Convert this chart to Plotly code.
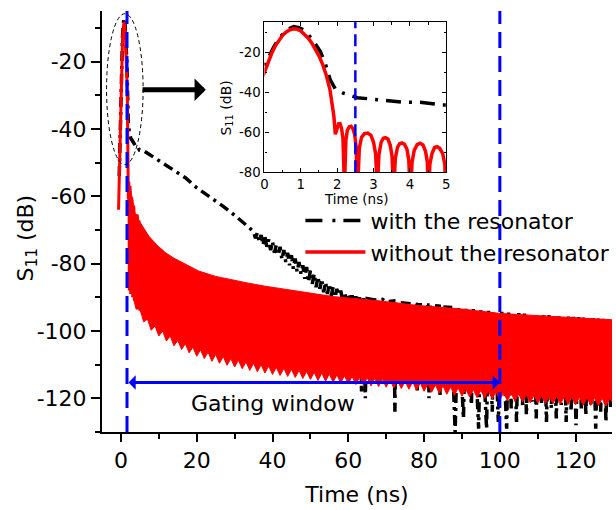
import plotly.graph_objects as go

# ---------------- data ----------------
# red curve "without the resonator" around the main pulse (ns, dB)
red_t = [-0.63, -0.45, -0.3, -0.15, 0.0, 0.1, 0.2, 0.3, 0.4, 0.5, 0.6, 0.7, 0.8, 0.9, 1.0,
         1.1, 1.2, 1.3, 1.4, 1.5, 1.6, 1.7, 1.8, 1.86, 1.91, 1.95, 1.99, 2.04, 2.08, 2.12,
         2.16, 2.2, 2.24, 2.28, 2.33, 2.38, 2.43, 2.48, 2.52, 2.56, 2.61, 2.67, 2.75, 2.84,
         2.93, 3.0, 3.06, 3.1, 3.15, 3.21, 3.27, 3.33, 3.4, 3.46, 3.51, 3.55, 3.6, 3.66,
         3.72, 3.78, 3.85, 3.92, 3.97, 4.01, 4.06, 4.12, 4.2, 4.28, 4.36, 4.43, 4.48, 4.51,
         4.55, 4.61, 4.68, 4.75, 4.82, 4.9, 4.96, 5.0]
red_db = [-64, -54, -45, -36.5, -30, -25, -20.5, -16.8, -13.8, -11.5, -9.8, -8.8, -8.3, -8.5, -9.3,
          -10.8, -12.8, -15.3, -18.3, -21.8, -26, -31.5, -38.5, -45, -52, -61, -58, -55.8, -55.7, -58,
          -63, -88, -64, -59, -57.3, -57, -58, -61, -67, -89, -68, -62.5, -60.7, -60.4,
          -61.5, -65, -71, -90, -71, -65, -63, -62.7, -63.5, -66.5, -72, -91, -73, -67.5,
          -65.7, -65.3, -66, -68.5, -74, -92, -75, -69, -66.2, -65.5, -66.3, -69.5, -75, -93,
          -76, -70.5, -67.6, -67.2, -68, -70.5, -76, -94]

# upper envelope of the dense red ringing (ns, dB)
red_top_t = [1.95, 2.07, 2.38, 2.87, 3.32, 3.78, 4.29, 4.74, 6, 7.4, 9.5, 11.8, 14, 16.1, 18,
             20.5, 25, 29.3, 33.6, 38, 42, 46.7, 51, 56, 60, 68.6, 78, 83.4, 90, 100, 110,
             120, 129.6]
red_top_db = [-60, -55.7, -57, -60.4, -62.7, -65.3, -65.5, -67.2, -69.5, -71.9, -74.5, -76.8,
              -78.4, -79.7, -80.8, -82.2, -83.8, -84.9, -85.8, -86.7, -87.4, -88.2, -89, -89.8,
              -90.2, -91.1, -92.4, -92.8, -93.5, -94.8, -95.5, -96.1, -96.7]

# lower edge of the red ringing: edge at odd ns, tooth tips at even ns
red_edge_t = list(range(3, 130, 2))
red_edge_db = [-89, -93.5, -96.5, -98.5, -100, -101.5, -102.8, -103.8, -104.8, -105.6,
               -106.3, -107, -107.6, -108.2, -108.7, -109.2, -109.6, -110, -110.4, -110.8,
               -111.1, -111.4, -111.7, -112, -112.3, -112.5, -112.8, -113, -113.3, -113.5,
               -113.7, -113.9, -114.1, -114.3, -114.5, -114.7, -114.9, -115.1, -115.4, -115.7,
               -116, -116.3, -116.6, -116.9, -117.2, -117.4, -117.6, -117.8, -118, -118.3,
               -118.5, -118.7, -118.9, -119.1, -119.2, -119.3, -119.4, -119.5, -119.6, -119.7,
               -119.8, -119.9, -120, -120.1]
red_tooth_t = list(range(4, 129, 2))
red_tooth_db = [-93.5, -97.3, -99.8, -101.5, -103, -104.4, -105.5, -106.5, -107.5, -108.2,
                -109, -109.6, -110.2, -110.7, -111.2, -111.7, -112.1, -112.5, -112.9, -113.2,
                -113.5, -113.8, -114.1, -114.4, -114.7, -114.9, -115.2, -115.4, -115.7, -115.9,
                -116.1, -116.3, -116.5, -116.7, -116.9, -117.1, -117.3, -117.6, -117.9, -118.2,
                -118.5, -118.8, -119.1, -119.4, -119.6, -119.8, -120, -120.2, -120.5, -120.7,
                -120.9, -121.1, -121.3, -121.4, -121.5, -121.6, -121.7, -121.8, -121.9, -122,
                -122.1, -122.2, -122.3]
red_low_start_t = [1.95, 2.1]
red_low_start_db = [-62, -85]
red_low_end_t = [129.6]
red_low_end_db = [-121]

# black curve "with the resonator" (ns, dB)
black_t = [-0.45, -0.3, -0.15, 0, 0.12, 0.25, 0.4, 0.55, 0.7, 0.81, 0.95, 1.08, 1.2, 1.35, 1.54,
           1.68, 1.81, 1.95, 2.18, 2.55, 2.9, 3.37, 3.83, 4.28, 4.56, 4.88, 6, 9, 12, 15, 17,
           20, 22, 24, 27, 29.3, 31, 33,
           35, 35.5, 36, 36.5, 37, 37.5, 38, 38.5, 39, 39.5, 40, 40.5, 41, 41.5, 42, 42.5,
           43, 43.5, 44, 44.5, 45, 45.5, 46, 46.5, 47, 47.5, 48, 48.5, 49, 49.5, 50, 50.5,
           51, 51.5, 52, 52.5, 53, 53.5, 54, 54.5, 55, 55.5, 56, 56.5, 57, 57.5, 58, 58.5,
           59, 59.5, 60, 60.5, 61, 61.5, 62, 62.5, 63,
           63.5, 64, 64.5, 65,
           67, 69, 70, 72, 72.3, 72.6, 75, 78, 78.2, 78.4, 81, 81.3, 81.6, 84, 84.2, 84.4, 87,
           88.2, 89, 90.4, 91, 92.5, 93, 94.4, 95, 96.5, 97, 98, 98.5, 99.6, 100.5, 101.8,
           102.3, 103, 103.6, 104.4, 105, 106, 106.5, 107, 107.8, 108.5, 109, 109.6, 110.2,
           111, 111.6, 112.3, 113, 113.6, 114.2, 114.9, 115.5, 116.2, 116.8, 117.5, 118.1,
           118.8, 119.4, 120.1, 120.8, 121.5, 122, 122.7, 123.3, 124, 124.6, 125.3, 126,
           126.6, 127.3, 128, 128.6, 129.2, 129.6]
black_db = [-54, -44.5, -35.5, -27, -22.5, -17.5, -13, -10, -8, -7.2, -7.7, -8.8, -11, -14.5, -19.7,
            -26, -33.8, -38.3, -40.5, -42.7, -43.3, -44.3, -45, -45, -45.5, -46.3, -46.5, -48.7,
            -51, -53, -54.5, -57.5, -59, -60.5, -63, -65, -66.5, -68.5,
            -70.5, -72.5, -70.8, -73.5, -71.5, -74.5, -72, -75, -72.8, -76, -73.5, -76.8,
            -74.5, -77.5, -75, -78.8, -76, -79.5, -76.8, -80.5, -77.5, -81.5, -78.5, -82.5,
            -79.5, -83, -80.5, -84.5, -81, -85.5, -82, -86, -83, -87, -83.8, -87.5, -84.5,
            -88.5, -85.5, -89, -86, -89.5, -87, -90, -87.5, -90.5, -88, -91, -88.5, -91, -89,
            -91.2, -89.5, -91.3, -89.8, -91.4, -90,
            -118, -90.2, -120, -90.4,
            -90.8, -90.6, -91.3, -91.1, -124, -91.5, -91.8, -92.1, -118, -92.2, -92.3,
            -120, -92.4, -92.6, -119, -92.8, -93, -130, -93.2, -126, -93.4, -122, -93.5, -129,
            -93.8, -129, -94, -124, -94.1, -127, -94.3, -129, -94.5, -123, -94.6, -127, -94.7,
            -122, -94.8, -125, -94.9, -121, -95, -126, -95.1, -122, -95.2, -127, -95.3, -123,
            -95.4, -126, -95.5, -122, -95.6, -127, -95.7, -124, -95.8, -128, -95.9, -123, -96,
            -125, -96.1, -122, -96.2, -129, -96.3, -124, -96.4, -127, -96.5, -123, -96.6]

x_ticks = [0, 20, 40, 60, 80, 100, 120]
x_labels = ["0", "20", "40", "60", "80", "100", "120"]
y_ticks = [-120, -100, -80, -60, -40, -20]
y_labels = ["-120", "-100", "-80", "-60", "-40", "-20"]
inset_x_ticks = [0, 1, 2, 3, 4, 5]
inset_x_labels = ["0", "1", "2", "3", "4", "5"]
inset_y_ticks = [-80, -60, -40, -20]
inset_y_labels = ["-80", "-60", "-40", "-20"]

gate_start, gate_end = 1.6, 100
gate_arrow_db = -115.3
inset_gate = 2.5

# ---------------- figure ----------------
FONT = "DejaVu Sans"
MAIN_DASH = "10px,5px,3px,5px"
INSET_DASH = "15px,8px,3px,8px"
LEGEND_DASH = "17px,10px,3px,8px"

low_pairs = sorted(list(zip(red_edge_t, red_edge_db)) + list(zip(red_tooth_t, red_tooth_db)))
red_low_t = red_low_start_t + [p[0] for p in low_pairs] + red_low_end_t
red_low_db = red_low_start_db + [p[1] for p in low_pairs] + red_low_end_db

fig = go.Figure()

# main plot
fig.add_trace(go.Scatter(x=black_t, y=black_db, mode="lines", showlegend=False,
                         line=dict(color="black", width=3.5, dash=MAIN_DASH)))
fig.add_trace(go.Scatter(x=red_top_t + red_low_t[::-1], y=red_top_db + red_low_db[::-1],
                         mode="lines", fill="toself", fillcolor="#FF0000",
                         line=dict(color="#FF0000", width=1), showlegend=False,
                         hoverinfo="skip"))
fig.add_trace(go.Scatter(x=red_t, y=red_db, mode="lines", showlegend=False,
                         line=dict(color="#FF0000", width=3)))
# legend entries
fig.add_trace(go.Scatter(x=[None], y=[None], mode="lines", name="with the resonator",
                         legendgroup="a",
                         line=dict(color="black", width=3.5, dash=LEGEND_DASH)))
fig.add_trace(go.Scatter(x=[None], y=[None], mode="lines", name="without the resonator",
                         legendgroup="b", line=dict(color="#FF0000", width=3.5)))

# inset
fig.add_trace(go.Scatter(x=black_t, y=black_db, mode="lines", xaxis="x2", yaxis="y2",
                         showlegend=False,
                         line=dict(color="black", width=3.5, dash=INSET_DASH)))
fig.add_trace(go.Scatter(x=red_t, y=red_db, mode="lines", xaxis="x2", yaxis="y2",
                         showlegend=False, line=dict(color="#FF0000", width=3.5)))

tickfont = dict(family=FONT, size=22, color="black")
small_font = dict(family=FONT, size=13.3, color="black")

fig.update_layout(
    width=616, height=510, autosize=False,
    margin=dict(l=102, r=0, t=11, b=78),
    paper_bgcolor="white", plot_bgcolor="white",
    font=dict(family=FONT, color="black"),
    xaxis=dict(range=[-5, 129.6], domain=[0, 1], anchor="y",
               tickvals=x_ticks, ticktext=x_labels, ticks="outside", ticklen=8, tickwidth=2,
               tickcolor="black",
               minor=dict(dtick=10, tick0=0, ticks="outside", ticklen=5, tickwidth=1.5,
                          tickcolor="black"),
               showline=True, linewidth=2, linecolor="black", showgrid=False, zeroline=False,
               tickfont=tickfont,
               title=dict(text="Time (ns)", font=dict(family=FONT, size=22, color="black"),
                          standoff=14)),
    xaxis3=dict(range=[-5, 129.6], overlaying="x", matches="x", side="top", anchor="y",
                tickvals=x_ticks, ticks="inside", ticklen=8, tickwidth=2, tickcolor="black",
                minor=dict(dtick=10, tick0=0, ticks="inside", ticklen=4, tickwidth=1.5,
                           tickcolor="black"),
                showticklabels=False, showline=True, linewidth=2, linecolor="black",
                showgrid=False, zeroline=False),
    yaxis=dict(range=[-130, -5], domain=[0, 1], anchor="x",
               tickvals=y_ticks, ticktext=y_labels, ticks="outside", ticklen=9, tickwidth=2,
               tickcolor="black",
               minor=dict(dtick=10, tick0=0, ticks="outside", ticklen=5, tickwidth=1.5,
                          tickcolor="black"),
               showline=True, linewidth=2, linecolor="black", showgrid=False, zeroline=False,
               tickfont=tickfont),
    xaxis2=dict(domain=[0.3185, 0.675], anchor="y2", range=[0, 5], tickvals=inset_x_ticks,
                ticktext=inset_x_labels,
                ticks="inside", ticklen=4, tickwidth=1, tickcolor="black", mirror="ticks",
                minor=dict(dtick=0.5, ticks="inside", ticklen=2.5, tickcolor="black"),
                showline=True, linewidth=1.2, linecolor="black", showgrid=False,
                zeroline=False, tickfont=small_font),
    yaxis2=dict(domain=[0.6169, 0.9732], anchor="x2", range=[-80, -5], tickvals=inset_y_ticks,
                ticktext=inset_y_labels,
                ticks="inside", ticklen=4, tickwidth=1, tickcolor="black", mirror="ticks",
                minor=dict(dtick=10, tick0=0, ticks="inside", ticklen=2.5, tickcolor="black"),
                showline=True, linewidth=1.2, linecolor="black", showgrid=False,
                zeroline=False, tickfont=small_font),
    legend=dict(x=0.389, y=0.552, xanchor="left", yanchor="top", bgcolor="rgba(0,0,0,0)",
                font=dict(family=FONT, size=22, color="black"), itemwidth=60,
                tracegroupgap=0),
    showlegend=True,
)

# dashed blue gate lines
fig.add_shape(type="line", xref="x", yref="y domain", x0=gate_start, x1=gate_start, y0=0, y1=1,
              line=dict(color="#0000FF", width=3, dash="16px,8px"))
fig.add_shape(type="line", xref="x", yref="y domain", x0=gate_end, x1=gate_end, y0=0, y1=1,
              line=dict(color="#0000FF", width=3, dash="16px,8px"))
fig.add_shape(type="line", xref="x2", yref="y2 domain", x0=inset_gate, x1=inset_gate, y0=0, y1=1,
              line=dict(color="#0000FF", width=2.5, dash="12px,6px"))

# dashed ellipse around the main pulse
fig.add_shape(type="circle", xref="x", yref="y", x0=-3.8, x1=5.85, y0=-50.6, y1=-5.8,
              line=dict(color="black", width=1, dash="4px,3px"))

# black arrow to the inset
fig.add_annotation(x=22.4, y=-28.4, ax=5.3, ay=-28.4, xref="x", yref="y", axref="x", ayref="y",
                   text="", showarrow=True, arrowhead=1, arrowsize=0.75, arrowwidth=5,
                   arrowcolor="black")

# gating window double arrow
fig.add_annotation(x=gate_end, y=gate_arrow_db, ax=gate_start, ay=gate_arrow_db,
                   xref="x", yref="y", axref="x", ayref="y", text="", showarrow=True,
                   arrowhead=1, startarrowhead=1, arrowside="end+start", arrowsize=0.8,
                   startarrowsize=0.8, arrowwidth=3, arrowcolor="#0000FF")
fig.add_annotation(x=40.2, y=-121.4, xref="x", yref="y", text="Gating window", showarrow=False,
                   xanchor="center", yanchor="middle",
                   font=dict(family=FONT, size=22, color="black"))

# axis titles placed as text
fig.add_annotation(x=(26 - 102) / 514, y=(432 - 238) / 421, xref="paper", yref="paper",
                   text="S<sub>11</sub> (dB)", textangle=-90, showarrow=False,
                   xanchor="center", yanchor="middle",
                   font=dict(family=FONT, size=22, color="black"))
fig.add_annotation(x=(227 - 102) / 514, y=(432 - 108.5) / 421, xref="paper", yref="paper",
                   text="S<sub>11</sub> (dB)", textangle=-90, showarrow=False,
                   xanchor="center", yanchor="middle",
                   font=dict(family=FONT, size=14, color="black"))
fig.add_annotation(x=(357.5 - 102) / 514, y=(432 - 199) / 421, xref="paper", yref="paper",
                   text="Time (ns)", showarrow=False, xanchor="center", yanchor="middle",
                   font=dict(family=FONT, size=13.5, color="black"))

fig.write_html("out.html")
